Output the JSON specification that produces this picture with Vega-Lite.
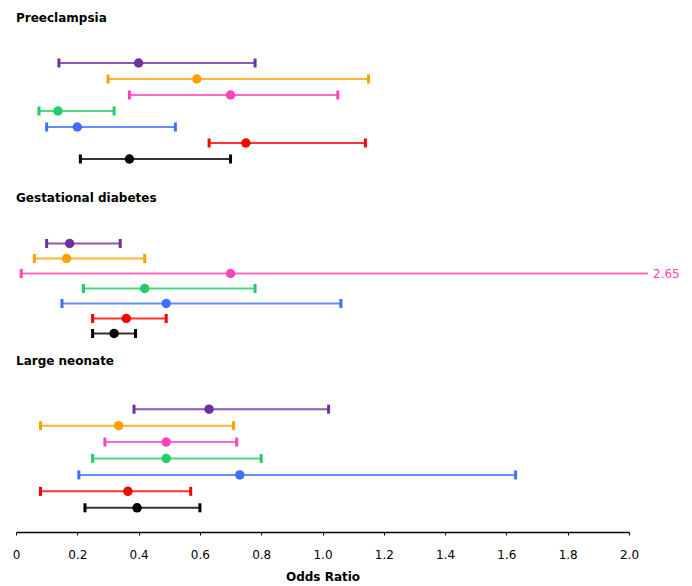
{
  "$schema": "https://vega.github.io/schema/vega-lite/v6.json",
  "padding": {"left": 12, "top": 12, "right": 5, "bottom": 2},
  "background": "white",
  "data": {"values": [
    {"outcome": "Preeclampsia", "group": "Group 1", "or": 0.40, "lo": 0.14, "hi": 0.78},
    {"outcome": "Preeclampsia", "group": "Group 2", "or": 0.59, "lo": 0.30, "hi": 1.15},
    {"outcome": "Preeclampsia", "group": "Group 3", "or": 0.70, "lo": 0.37, "hi": 1.05},
    {"outcome": "Preeclampsia", "group": "Group 4", "or": 0.137, "lo": 0.075, "hi": 0.32},
    {"outcome": "Preeclampsia", "group": "Group 5", "or": 0.20, "lo": 0.10, "hi": 0.52},
    {"outcome": "Preeclampsia", "group": "Group 6", "or": 0.75, "lo": 0.63, "hi": 1.14},
    {"outcome": "Preeclampsia", "group": "Group 7", "or": 0.37, "lo": 0.21, "hi": 0.70},
    {"outcome": "Gestational diabetes", "group": "Group 1", "or": 0.175, "lo": 0.10, "hi": 0.34},
    {"outcome": "Gestational diabetes", "group": "Group 2", "or": 0.165, "lo": 0.06, "hi": 0.42},
    {"outcome": "Gestational diabetes", "group": "Group 3", "or": 0.70, "lo": 0.017, "hi": 2.65},
    {"outcome": "Gestational diabetes", "group": "Group 4", "or": 0.42, "lo": 0.22, "hi": 0.78},
    {"outcome": "Gestational diabetes", "group": "Group 5", "or": 0.49, "lo": 0.15, "hi": 1.06},
    {"outcome": "Gestational diabetes", "group": "Group 6", "or": 0.36, "lo": 0.25, "hi": 0.49},
    {"outcome": "Gestational diabetes", "group": "Group 7", "or": 0.32, "lo": 0.25, "hi": 0.39},
    {"outcome": "Large neonate", "group": "Group 1", "or": 0.63, "lo": 0.385, "hi": 1.02},
    {"outcome": "Large neonate", "group": "Group 2", "or": 0.335, "lo": 0.08, "hi": 0.71},
    {"outcome": "Large neonate", "group": "Group 3", "or": 0.49, "lo": 0.29, "hi": 0.72},
    {"outcome": "Large neonate", "group": "Group 4", "or": 0.49, "lo": 0.25, "hi": 0.80},
    {"outcome": "Large neonate", "group": "Group 5", "or": 0.73, "lo": 0.205, "hi": 1.63},
    {"outcome": "Large neonate", "group": "Group 6", "or": 0.365, "lo": 0.08, "hi": 0.57},
    {"outcome": "Large neonate", "group": "Group 7", "or": 0.395, "lo": 0.225, "hi": 0.60}
  ]},
  "spacing": 14,
  "vconcat": [
    {
      "spacing": 25,
      "vconcat": [
        {
          "width": 613, "height": 112,
          "title": {"text": "Preeclampsia", "offset": 30},
          "transform": [{"filter": "datum.outcome === 'Preeclampsia'"}],
          "encoding": {
            "y": {"field": "group", "type": "nominal", "sort": ["Group 1", "Group 2", "Group 3", "Group 4", "Group 5", "Group 6", "Group 7"], "scale": {"type": "point", "padding": 0.5}, "axis": null},
            "color": {"field": "group", "type": "nominal", "scale": {"domain": ["Group 1", "Group 2", "Group 3", "Group 4", "Group 5", "Group 6", "Group 7"], "range": ["#7030A0", "#FFA000", "#FF44BB", "#22CC66", "#3F6FFF", "#FF0000", "#000000"]}, "legend": null}
          },
          "layer": [
            {"mark": {"type": "rule", "strokeWidth": 2, "opacity": 0.8}, "encoding": {"x": {"field": "lo", "type": "quantitative", "scale": {"domain": [0, 2], "clamp": true, "nice": false}, "axis": null}, "x2": {"field": "hi"}}},
            {"mark": {"type": "tick", "thickness": 3, "size": 9, "opacity": 1}, "encoding": {"x": {"field": "lo", "type": "quantitative", "axis": null}}},
            {"transform": [{"filter": "datum.hi <= 2"}], "mark": {"type": "tick", "thickness": 3, "size": 9, "opacity": 1}, "encoding": {"x": {"field": "hi", "type": "quantitative", "axis": null}}},
            {"mark": {"type": "circle", "size": 90, "opacity": 1}, "encoding": {"x": {"field": "or", "type": "quantitative", "axis": null}}}
          ]
        },
        {
          "width": 613, "height": 105,
          "title": {"text": "Gestational diabetes", "offset": 31},
          "transform": [{"filter": "datum.outcome === 'Gestational diabetes'"}],
          "encoding": {
            "y": {"field": "group", "type": "nominal", "sort": ["Group 1", "Group 2", "Group 3", "Group 4", "Group 5", "Group 6", "Group 7"], "scale": {"type": "point", "padding": 0.5}, "axis": null},
            "color": {"field": "group", "type": "nominal", "scale": {"domain": ["Group 1", "Group 2", "Group 3", "Group 4", "Group 5", "Group 6", "Group 7"], "range": ["#7030A0", "#FFA000", "#FF44BB", "#22CC66", "#3F6FFF", "#FF0000", "#000000"]}, "legend": null}
          },
          "layer": [
            {"mark": {"type": "rule", "strokeWidth": 2, "opacity": 0.8}, "encoding": {"x": {"field": "lo", "type": "quantitative", "scale": {"domain": [0, 2], "clamp": true, "nice": false}, "axis": null}, "x2": {"field": "hi"}}},
            {"mark": {"type": "tick", "thickness": 3, "size": 9, "opacity": 1}, "encoding": {"x": {"field": "lo", "type": "quantitative", "axis": null}}},
            {"transform": [{"filter": "datum.hi <= 2"}], "mark": {"type": "tick", "thickness": 3, "size": 9, "opacity": 1}, "encoding": {"x": {"field": "hi", "type": "quantitative", "axis": null}}},
            {"mark": {"type": "circle", "size": 90, "opacity": 1}, "encoding": {"x": {"field": "or", "type": "quantitative", "axis": null}}},
            {"transform": [{"filter": "datum.hi > 2"}], "mark": {"type": "rule", "strokeWidth": 2, "opacity": 0.8, "x2Offset": 19}, "encoding": {"x": {"field": "hi", "type": "quantitative", "axis": null}, "x2": {"field": "hi"}}},
            {"transform": [{"filter": "datum.hi > 2"}], "mark": {"type": "text", "align": "left", "baseline": "middle", "dx": 24, "fontSize": 12, "font": "DejaVu Sans"}, "encoding": {"x": {"field": "hi", "type": "quantitative", "axis": null}, "text": {"field": "hi", "type": "quantitative", "format": ".2f"}}}
          ]
        }
      ]
    },
    {
      "width": 613, "height": 115,
      "title": {"text": "Large neonate", "offset": 33},
      "transform": [{"filter": "datum.outcome === 'Large neonate'"}],
      "encoding": {
        "y": {"field": "group", "type": "nominal", "sort": ["Group 1", "Group 2", "Group 3", "Group 4", "Group 5", "Group 6", "Group 7"], "scale": {"type": "point", "padding": 0.5}, "axis": null},
        "color": {"field": "group", "type": "nominal", "scale": {"domain": ["Group 1", "Group 2", "Group 3", "Group 4", "Group 5", "Group 6", "Group 7"], "range": ["#7030A0", "#FFA000", "#FF44BB", "#22CC66", "#3F6FFF", "#FF0000", "#000000"]}, "legend": null}
      },
      "layer": [
        {"mark": {"type": "rule", "strokeWidth": 2, "opacity": 0.8}, "encoding": {"x": {"field": "lo", "type": "quantitative", "scale": {"domain": [0, 2], "clamp": true, "nice": false}, "axis": {"title": "Odds Ratio", "values": [0, 0.2, 0.4, 0.6, 0.8, 1.0, 1.2, 1.4, 1.6, 1.8, 2.0]}}, "x2": {"field": "hi"}}},
        {"mark": {"type": "tick", "thickness": 3, "size": 9, "opacity": 1}, "encoding": {"x": {"field": "lo", "type": "quantitative", "axis": {"title": "Odds Ratio", "values": [0, 0.2, 0.4, 0.6, 0.8, 1.0, 1.2, 1.4, 1.6, 1.8, 2.0]}}}},
        {"transform": [{"filter": "datum.hi <= 2"}], "mark": {"type": "tick", "thickness": 3, "size": 9, "opacity": 1}, "encoding": {"x": {"field": "hi", "type": "quantitative", "axis": {"title": "Odds Ratio", "values": [0, 0.2, 0.4, 0.6, 0.8, 1.0, 1.2, 1.4, 1.6, 1.8, 2.0]}}}},
        {"mark": {"type": "circle", "size": 90, "opacity": 1}, "encoding": {"x": {"field": "or", "type": "quantitative", "axis": {"title": "Odds Ratio", "values": [0, 0.2, 0.4, 0.6, 0.8, 1.0, 1.2, 1.4, 1.6, 1.8, 2.0]}}}}
      ]
    }
  ],
  "config": {
    "view": {"stroke": null},
    "title": {"anchor": "start", "frame": "group", "font": "DejaVu Sans", "fontSize": 12, "fontWeight": "bold", "color": "#000000"},
    "axisX": {"labelExpr": "datum.value == 0 ? '0' : format(datum.value, '.1f')", "grid": false, "offset": 16, "domainColor": "#000000", "domainWidth": 1.5, "tickColor": "#000000", "tickSize": 3, "labelPadding": 14, "labelFont": "DejaVu Sans", "labelFontSize": 12, "labelColor": "#000000", "labelFlush": false, "titleFont": "DejaVu Sans", "titleFontSize": 12, "titleFontWeight": "bold", "titleColor": "#000000", "titlePadding": 11}
  }
}
